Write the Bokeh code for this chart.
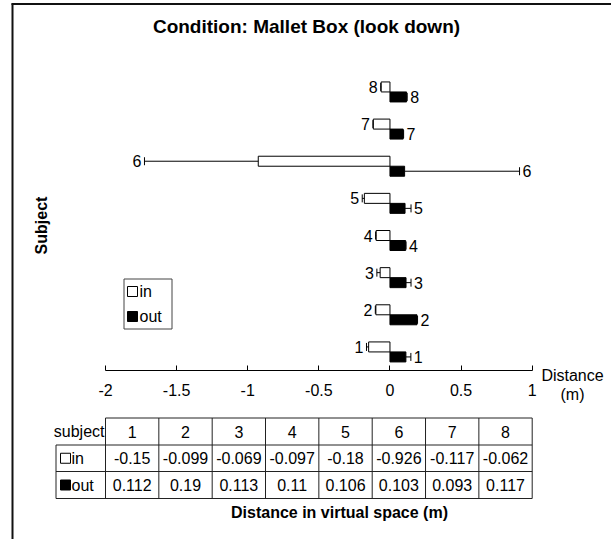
from bokeh.plotting import figure
from bokeh.models import LinearAxis, FixedTicker
from bokeh.core.properties import value
from bokeh.embed import file_html
from bokeh.resources import INLINE

# ---------------- data ----------------
subjects = [1, 2, 3, 4, 5, 6, 7, 8]
in_vals = [-0.15, -0.099, -0.069, -0.097, -0.18, -0.926, -0.117, -0.062]
out_vals = [0.112, 0.19, 0.113, 0.11, 0.106, 0.103, 0.093, 0.117]
in_err = [0.015, 0.004, 0.023, 0.004, 0.015, 0.80, 0.003, 0.003]
out_err = [0.035, 0.004, 0.035, 0.003, 0.042, 0.808, 0.003, 0.004]
x_ticks = [-2, -1.5, -1, -0.5, 0, 0.5, 1]
x_tick_labels = ["-2", "-1.5", "-1", "-0.5", "0", "0.5", "1"]
series_names = ["in", "out"]
title_text = "Condition: Mallet Box (look down)"
y_title = "Subject"
x_title_right = ["Distance", "(m)"]
table_title = "Distance in virtual space (m)"
table_header = "subject"

# ---------------- layout helpers (reference pixel -> data) ----------------
W, H = 611, 539
X0_REF, X1_REF = 105.0, 531.7
PXX = (X1_REF - X0_REF) / 3.0
AXIS_REF_Y = 370.0
PXY = 37.14


def dx(rx):
    return -2 + (rx - X0_REF) / PXX


def dy(ry):
    return 0.5 + (AXIS_REF_Y - ry) / PXY


FONT = value("Liberation Sans")
FS = "16px"

p = figure(width=W, height=H,
           x_range=(dx(0), dx(W)), y_range=(dy(H), dy(0)),
           output_backend="svg", toolbar_location=None, min_border=0,
           x_axis_type=None, y_axis_type=None)
p.outline_line_color = None
p.background_fill_color = "white"

# outer frame (top + left)
p.segment(x0=[dx(11), dx(12)], y0=[dy(3.5), dy(3)], x1=[dx(W), dx(12)],
          y1=[dy(3.5), dy(H)], line_color="#111111", line_width=2)

# x axis
ax = LinearAxis(ticker=FixedTicker(ticks=x_ticks), fixed_location=0.5,
                bounds=(-2, 1))
ax.major_label_overrides = {t: l for t, l in zip(x_ticks, x_tick_labels)}
ax.major_tick_in = 5
ax.major_tick_out = 0
ax.minor_tick_line_color = None
ax.axis_line_color = "black"
ax.major_tick_line_color = "black"
ax.major_label_text_font = "Liberation Sans"
ax.major_label_text_font_size = FS
ax.major_label_text_color = "black"
ax.major_label_standoff = 13
p.add_layout(ax, "below")

# bars
BH = 10 / PXY
in_y = [s + BH / 2 for s in subjects]
out_y = [s - BH / 2 for s in subjects]
p.hbar(y=in_y, left=in_vals, right=0, height=BH, fill_color="white",
       line_color="black", line_width=1)
p.hbar(y=out_y, left=0, right=out_vals, height=BH, fill_color="black",
       line_color="black", line_width=1)

# error bars (in: minus, out: plus)
in_lo = [v - e for v, e in zip(in_vals, in_err)]
out_hi = [v + e for v, e in zip(out_vals, out_err)]
CAP = 4 / PXY
p.segment(x0=in_lo, y0=in_y, x1=in_vals, y1=in_y, line_color="black", line_width=1)
p.segment(x0=in_lo, y0=[y - CAP for y in in_y], x1=in_lo, y1=[y + CAP for y in in_y],
          line_color="black", line_width=1)
p.segment(x0=out_vals, y0=out_y, x1=out_hi, y1=out_y, line_color="black", line_width=1)
p.segment(x0=out_hi, y0=[y - CAP for y in out_y], x1=out_hi, y1=[y + CAP for y in out_y],
          line_color="black", line_width=1)

# subject labels
lab = [str(s) for s in subjects]
p.text(x=in_lo, y=in_y, text=lab, x_offset=-3, text_align="right",
       text_baseline="middle", text_font=FONT, text_font_size=FS, text_color="black")
p.text(x=out_hi, y=out_y, text=lab, x_offset=3, text_align="left",
       text_baseline="middle", text_font=FONT, text_font_size=FS, text_color="black")

# title & axis titles
p.text(x=[dx(306)], y=[dy(26)], text=[title_text], text_align="center",
       text_baseline="middle", text_font=FONT, text_font_size="19px",
       text_font_style="bold", text_color="black")
p.text(x=[dx(41)], y=[dy(225)], text=[y_title], angle=1.5708, text_align="center",
       text_baseline="middle", text_font=FONT, text_font_size=FS,
       text_font_style="bold", text_color="black")
p.text(x=[dx(572), dx(572)], y=[dy(375), dy(394)], text=x_title_right,
       text_align="center", text_baseline="middle", text_font=FONT,
       text_font_size=FS, text_color="black")

# legend
p.quad(left=[dx(123.5)], right=[dx(171.5)], top=[dy(278.5)], bottom=[dy(328.5)],
       fill_color="white", line_color="#444444", line_width=1)
p.rect(x=[dx(132), dx(132)], y=[dy(291), dy(316)], width=10, height=10,
       width_units="screen", height_units="screen",
       fill_color=["white", "black"], line_color="black")
p.text(x=[dx(139), dx(139)], y=[dy(291), dy(316)], text=series_names,
       text_align="left", text_baseline="middle", text_font=FONT,
       text_font_size=FS, text_color="black")

# data table
n = len(subjects)
cw = 3.0 / n
edges = [-2 + cw * i for i in range(n + 1)]
centers = [-2 + cw * (i + 0.5) for i in range(n)]
r_top, r1, r2, r_bot = dy(417.5), dy(444.5), dy(471), dy(498)
key_l = dx(55.5)
hx0 = [edges[0], key_l, key_l, key_l]
hx1 = [edges[-1]] * 4
hy = [r_top, r1, r2, r_bot]
p.segment(x0=hx0, y0=hy, x1=hx1, y1=hy, line_color="#222222", line_width=1)
vx = edges + [key_l]
vy0 = [r_top] * (n + 1) + [r1]
p.segment(x0=vx, y0=vy0, x1=vx, y1=[r_bot] * (n + 2), line_color="#222222", line_width=1)

row_c = [(r_top + r1) / 2, (r1 + r2) / 2, (r2 + r_bot) / 2]
p.text(x=centers, y=[row_c[0]] * n, text=lab, text_align="center", text_baseline="middle",
       text_font=FONT, text_font_size=FS, text_color="black")
p.text(x=centers, y=[row_c[1]] * n, text=[str(v) for v in in_vals], text_align="center",
       text_baseline="middle", text_font=FONT, text_font_size=FS, text_color="black")
p.text(x=centers, y=[row_c[2]] * n, text=[str(v) for v in out_vals], text_align="center",
       text_baseline="middle", text_font=FONT, text_font_size=FS, text_color="black")
p.text(x=[edges[0]], y=[row_c[0]], text=[table_header], x_offset=-1, text_align="right",
       text_baseline="middle", text_font=FONT, text_font_size=FS, text_color="black")
p.rect(x=[dx(65), dx(65)], y=[row_c[1], row_c[2]], width=10, height=10,
       width_units="screen", height_units="screen",
       fill_color=["white", "black"], line_color="black")
p.text(x=[dx(71), dx(71)], y=[row_c[1], row_c[2]], text=series_names,
       text_align="left", text_baseline="middle", text_font=FONT,
       text_font_size=FS, text_color="black")
p.text(x=[dx(339)], y=[dy(512)], text=[table_title], text_align="center",
       text_baseline="middle", text_font=FONT, text_font_size=FS,
       text_font_style="bold", text_color="black")

open("out.html", "w").write(file_html(p, INLINE))
